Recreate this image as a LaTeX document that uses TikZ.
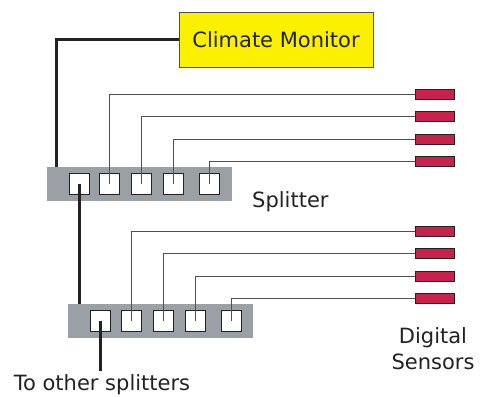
\documentclass[tikz,border=0pt]{standalone}
\usepackage{fontspec}
\setmainfont{DejaVu Sans}
\usetikzlibrary{positioning}
\definecolor{monyellow}{HTML}{FAF000}
\definecolor{splitgray}{HTML}{9BA0A6}
\definecolor{sensorred}{HTML}{C8214B}
\definecolor{wiregray}{HTML}{505050}
\definecolor{inkdark}{HTML}{222222}

\begin{document}
\begin{tikzpicture}[x=1pt, y=-1pt,
    splitbox/.style={fill=splitgray, minimum width=185pt, minimum height=34pt, inner sep=0pt},
    portbox/.style={draw=inkdark, fill=white, line width=0.8pt, minimum width=20pt, minimum height=21pt, inner sep=0pt},
    sensorbox/.style={draw=inkdark, fill=sensorred, line width=0.8pt, minimum width=39pt, minimum height=10pt, inner sep=0pt},
    thickwire/.style={draw=inkdark, line width=3pt},
    thinwire/.style={draw=wiregray, line width=1pt},
    caption/.style={font=\fontsize{21}{26}\selectfont, text=inkdark}]
    \useasboundingbox (0,0) rectangle (486,396);
    % Monitor on top
    \node[draw=inkdark!80, fill=monyellow, line width=0.8pt, minimum width=194pt, minimum height=55pt, caption] (mon) at (276,39.5) {Climate Monitor};
    % Two splitters, the second one shifted
    \node[splitbox] (spl1) at (139.5,184) {};
    \node[splitbox] (spl2) at (160,321) {};
    \def\ports{1/79, 2/109.5, 3/141.5, 4/173.5, 5/209.5}
    \foreach \n / \x in \ports {
        \node[portbox] (p1\n) at (\x,183.5) {};
        \node[portbox] (p2\n) at (\x+21.5,321) {};
    }
    % Sensors, four per splitter
    \def\sensors{1/94, 2/116, 3/139, 4/161.5}
    \foreach \n / \y in \sensors {
        \node[sensorbox] (s1\n) at (434.5,\y) {};
        \node[sensorbox] (s2\n) at (434.5,\y+137) {};
    }
    % Sensor wires
    \foreach \s / \p in {1/2, 2/3, 3/4, 4/5} {
        \draw[thinwire] (p1\p.center) |- (s1\s.west);
        \draw[thinwire] (p2\p.center) |- (s2\s.west);
    }
    % Bus wires
    \coordinate (in1) at ([xshift=10pt]spl1.north west);
    \draw[thickwire] (mon.west) -| (in1);
    \draw[thickwire] (p11.center) -- (p11.center |- spl2.north);
    \coordinate[below=50pt of p21.center] (out);
    \draw[thickwire] (p21.center) -- (out);
    % Labels
    \node[caption, anchor=base] (other) at (102,390.5) {To other splitters};
    \node[caption, anchor=base west, inner sep=0pt] (spltxt) at (252,207) {Splitter};
    \node[caption, align=center, anchor=base] (senstxt) at (433,369) {Digital\\Sensors};
\end{tikzpicture}
\end{document}
